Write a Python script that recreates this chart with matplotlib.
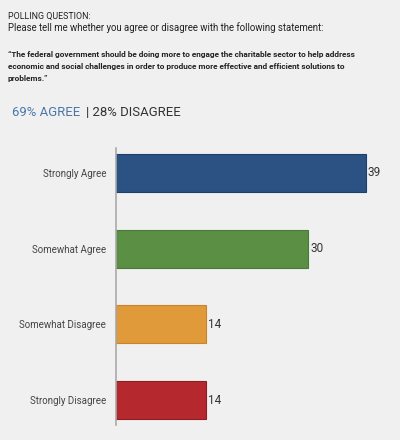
import matplotlib.pyplot as plt

categories = ["Strongly Agree", "Somewhat Agree", "Somewhat Disagree", "Strongly Disagree"]
values = [39, 30, 14, 14]
colors = ["#2b5283", "#5a8f44", "#e09a3a", "#b5292e"]
edges = ["#1f3f69", "#4a7a37", "#c98528", "#8f1e22"]

header = "POLLING QUESTION:"
question = "Please tell me whether you agree or disagree with the following statement:"
statement = ["\u201cThe federal government should be doing more to engage the charitable sector to help address",
             "economic and social challenges in order to produce more effective and efficient solutions to",
             "problems.\u201d"]
agree_txt = "69% AGREE"
disagree_txt = "| 28% DISAGREE"

bg = "#f0f0f0"
W, H = 400, 440
fig = plt.figure(figsize=(W / 100, H / 100), dpi=100, facecolor=bg)
renderer = fig.canvas.get_renderer()


def fy(y):
    return 1 - y / H


def fit_text(x, y, s, width, size, **kw):
    # shrink font so the line spans the width seen in the reference
    t = fig.text(x / W, fy(y), s, fontsize=size, va="center", **kw)
    w = t.get_window_extent(renderer).width
    t.set_fontsize(size * width / w)
    return t


fit_text(8, 16, header, 82, 7.5, family="Roboto", stretch="condensed", color="#222222")
fit_text(8, 28, question, 319, 7.5, family="Roboto", stretch="condensed", color="#222222")
t = fit_text(8, 54, statement[0], 352, 7, family="Roboto", stretch="condensed", weight="bold", color="#222222")
sz = t.get_fontsize()
for i, line in enumerate(statement[1:], start=1):
    fig.text(8 / W, fy(54 + 12 * i), line, fontsize=sz, family="Roboto", stretch="condensed",
             weight="bold", color="#222222", va="center")

t1 = fit_text(12, 113, agree_txt, 68, 10, family="Roboto", color="#4a77a8")
bb = t1.get_window_extent(renderer)
fig.text((bb.x1 + 6) / W, fy(113), disagree_txt, fontsize=t1.get_fontsize(), family="Roboto",
         color="#333333", va="center")

ax = fig.add_axes([116 / W, 1 - 425 / H, 274 / W, 277 / H])
ax.set_facecolor(bg)
ypos = list(range(len(categories)))
ax.barh(ypos, values, height=0.5, color=colors, edgecolor=edges, linewidth=0.8)
for y, v in zip(ypos, values):
    ax.text(v + 0.3, y, str(v), va="center", ha="left", fontsize=8.5, family="Roboto", color="#333333")
ax.set_xlim(0, 274 / 6.41)
ax.set_ylim(3.33, -0.33)
ax.set_yticks(ypos)
ax.set_yticklabels(categories, fontsize=7, family="Roboto", color="#444444")
ax.tick_params(axis="y", length=0, pad=7)
ax.set_xticks([])
for s in ["top", "right", "bottom"]:
    ax.spines[s].set_visible(False)
ax.spines["left"].set_color("#aaaaaa")
ax.spines["left"].set_linewidth(1.2)

fig.savefig("out.png", dpi=100, facecolor=bg)
